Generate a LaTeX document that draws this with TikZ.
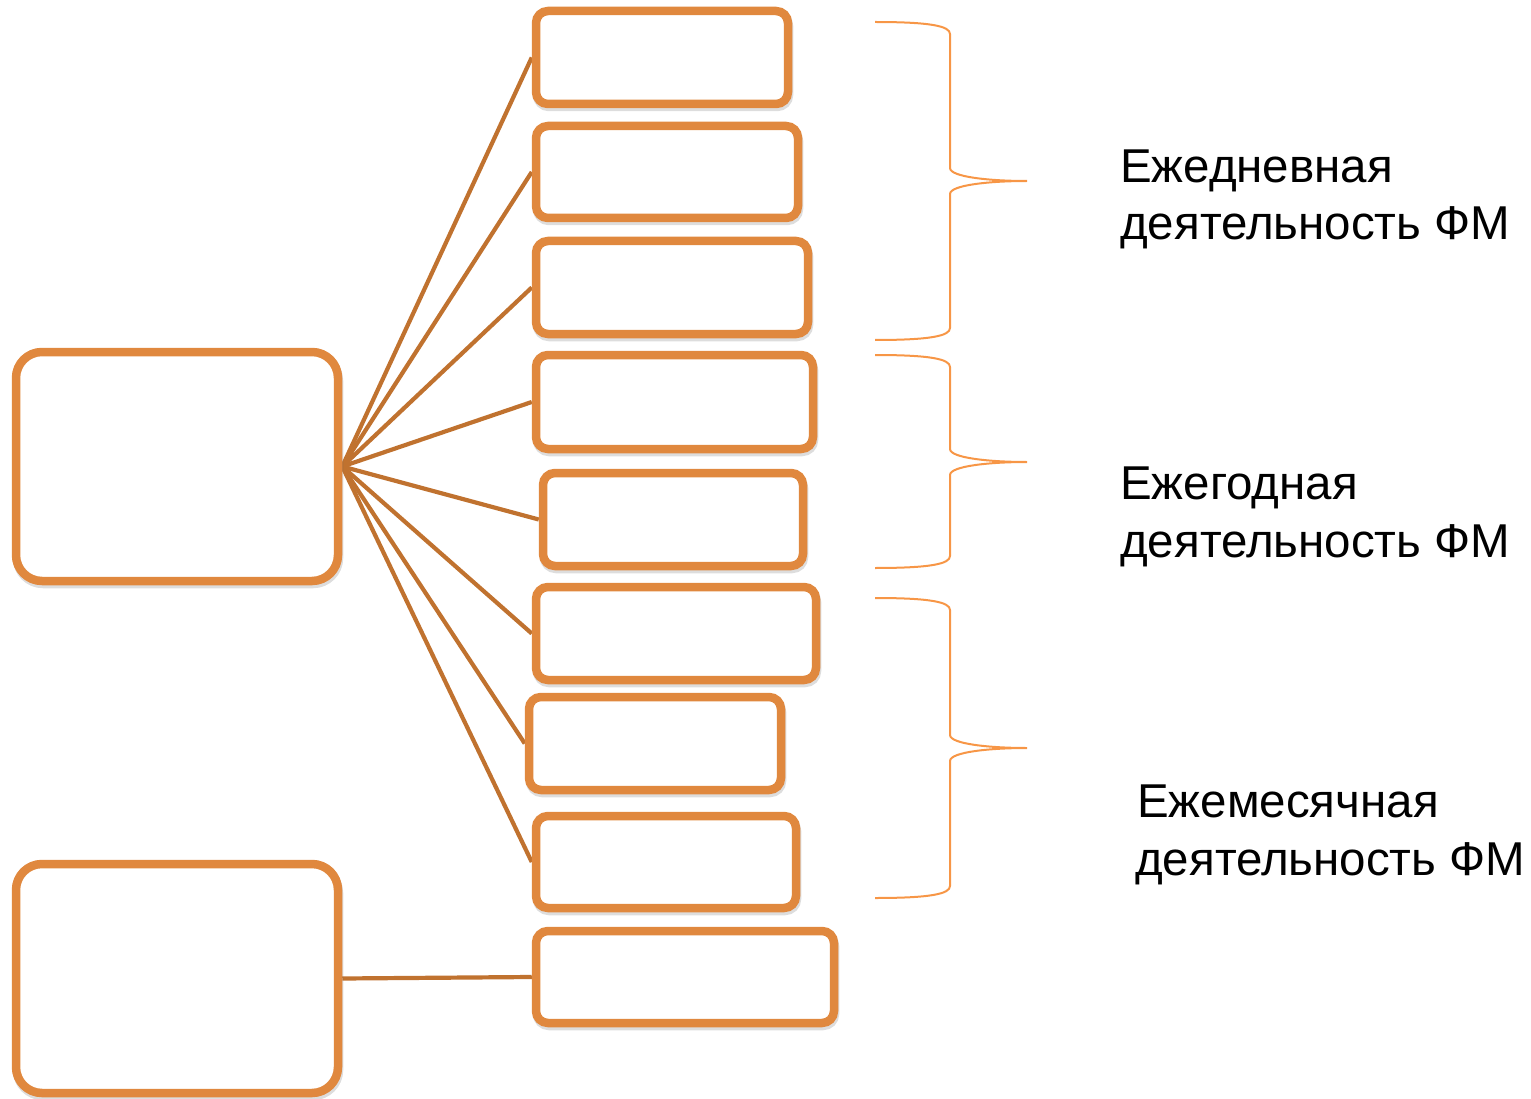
\documentclass[tikz,border=0pt]{standalone}
\usepackage{fontspec}
\setmainfont{Liberation Sans}
\usetikzlibrary{shadows,backgrounds}

\definecolor{boxorange}{HTML}{E0883E}
\definecolor{linkbrown}{HTML}{C0722F}
\definecolor{braceorange}{HTML}{F79646}

\tikzset{
  card/.style={draw=boxorange,line width=8.5pt,fill=white,rounded corners=12pt,inner sep=0pt,
    drop shadow={shadow xshift=1pt,shadow yshift=-3pt,opacity=.22,fill=black!60,draw=black!60}},
  bigcard/.style={card,rounded corners=26pt},
  link/.style={draw=linkbrown,line width=4.2pt},
  lbl/.style={anchor=base west,align=left,inner sep=0pt,font=\fontsize{47.5}{57.5}\selectfont}
}

\begin{document}
\begin{tikzpicture}[x=1pt,y=-1pt]
\useasboundingbox (0,0) rectangle (1531,1099);
% left boxes
\node[bigcard,minimum width=322,minimum height=229] (L1) at (177,466.5) {};
\node[bigcard,minimum width=322,minimum height=229] (L2) at (177,978.5) {};
% right column
\node[card,minimum width=252,minimum height=93] (B1) at (662,57.5) {};
\node[card,minimum width=262,minimum height=92] (B2) at (667,172) {};
\node[card,minimum width=272,minimum height=93] (B3) at (672,287.5) {};
\node[card,minimum width=277,minimum height=94] (B4) at (674.5,402) {};
\node[card,minimum width=260,minimum height=93] (B5) at (673,519.5) {};
\node[card,minimum width=280,minimum height=93] (B6) at (676,633.5) {};
\node[card,minimum width=252,minimum height=93] (B7) at (655,743.5) {};
\node[card,minimum width=260,minimum height=92] (B8) at (666,862) {};
\node[card,minimum width=298,minimum height=92] (B9) at (685,977) {};
% connectors
\begin{scope}[on background layer]
\foreach \n in {1,...,8}
  \draw[link] (L1.east) -- (B\n.west);
\draw[link] (L2.east) -- (B9.west);
\end{scope}
% braces
\foreach \t/\m/\b in {22/181/340,355/462/568,598/748/898}
  \draw[braceorange,line width=2pt]
    (875,\t) .. controls (930,\t) and (950,\t+4) .. (950,\t+12) -- (950,\m-13)
    .. controls (950,\m-4) and (990,\m) .. (1027,\m)
    .. controls (990,\m) and (950,\m+4) .. (950,\m+13) -- (950,\b-12)
    .. controls (950,\b-4) and (930,\b) .. (875,\b);
% labels (base = last line)
\node[lbl] (T1) at (1120,240) {Ежедневная\\деятельность ФМ};
\node[lbl] (T2) at (1120,557) {Ежегодная\\деятельность ФМ};
\node[lbl] (T3) at (1135,875) {\hspace*{2pt}Ежемесячная\\деятельность ФМ};
\end{tikzpicture}
\end{document}
